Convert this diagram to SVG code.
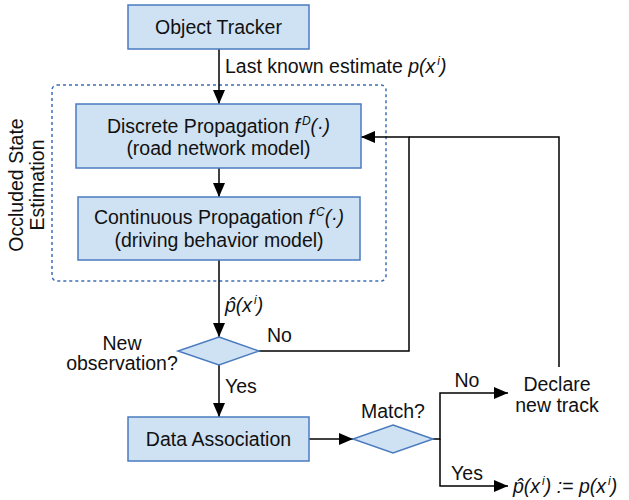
<svg xmlns="http://www.w3.org/2000/svg" width="629" height="500" viewBox="0 0 629 500">
<defs>
<marker id="arr" markerUnits="userSpaceOnUse" markerWidth="16" markerHeight="12" refX="14" refY="6" orient="auto">
<path d="M0,0 L14,6 L0,12 Z" fill="#000"/>
</marker>
<style>
text{font-family:"Liberation Sans",Arial,sans-serif;font-size:19.5px;fill:#111}
.m{text-anchor:middle}
.i{font-style:italic}
.box{fill:#cfe2f3;stroke:#4a7bbf;stroke-width:1.5}
.c{fill:none;stroke:#000;stroke-width:1.5}
</style>
</defs>
<rect width="629" height="500" fill="#fff"/>
<g id="occluded">
<rect x="52" y="85" width="334" height="196" rx="5" fill="none" stroke="#3d6fb6" stroke-width="1.5" stroke-dasharray="3,3"/>
<text class="m" transform="translate(23,185) rotate(-90)">Occluded State</text>
<text class="m" transform="translate(44,185) rotate(-90)">Estimation</text>
</g>
<g id="connectors">
<line class="c" x1="219" y1="49" x2="219" y2="104" marker-end="url(#arr)"/>
<line class="c" x1="219" y1="168" x2="219" y2="197" marker-end="url(#arr)"/>
<line class="c" x1="219" y1="260" x2="219" y2="337" marker-end="url(#arr)"/>
<line class="c" x1="219" y1="365" x2="219" y2="417" marker-end="url(#arr)"/>
<line class="c" x1="309" y1="439" x2="353" y2="439" marker-end="url(#arr)"/>
<polyline class="c" points="259,351 409,351 409,137 361,137" marker-end="url(#arr)"/>
<polyline class="c" points="559,367 559,137 409,137"/>
<polyline class="c" points="433,439 440,439 440,393 508,393" marker-end="url(#arr)"/>
<polyline class="c" points="440,439 440,486 508,486" marker-end="url(#arr)"/>
<text x="225" y="73">Last known estimate <tspan class="i">p(x</tspan><tspan class="i" font-size="12" dx="2" dy="-8">i</tspan><tspan class="i" dy="8">)</tspan></text>
<text class="i" x="225" y="312">p&#x302;(x<tspan font-size="12" dx="2" dy="-8">i</tspan><tspan dy="8">)</tspan></text>
<text x="267" y="342">No</text>
<text x="225" y="393">Yes</text>
<text class="m" x="467" y="387">No</text>
<text class="m" x="467" y="480">Yes</text>
</g>
<g id="tracker">
<rect class="box" x="128" y="5" width="181" height="44"/>
<text class="m" x="218.5" y="34">Object Tracker</text>
</g>
<g id="discrete">
<rect class="box" x="76" y="104" width="285" height="64"/>
<text class="m" x="218.5" y="133">Discrete Propagation <tspan class="i">f</tspan><tspan class="i" font-size="12" dx="2" dy="-8">D</tspan><tspan class="i" dy="8">(·)</tspan></text>
<text class="m" x="218.5" y="155">(road network model)</text>
</g>
<g id="continuous">
<rect class="box" x="78" y="197" width="282" height="63"/>
<text class="m" x="219" y="224">Continuous Propagation <tspan class="i">f</tspan><tspan class="i" font-size="12" dx="2" dy="-8">C</tspan><tspan class="i" dy="8">(·)</tspan></text>
<text class="m" x="219" y="247">(driving behavior model)</text>
</g>
<g id="newobs">
<polygon class="box" points="219,337 259,351 219,365 178,351"/>
<text class="m" x="122" y="350">New</text>
<text class="m" x="122" y="370">observation?</text>
</g>
<g id="data-association">
<rect class="box" x="128" y="417" width="181" height="44"/>
<text class="m" x="218.5" y="446">Data Association</text>
</g>
<g id="match">
<polygon class="box" points="393,425 433,439 393,453 353,439"/>
<text class="m" x="393" y="418">Match?</text>
</g>
<g id="declare">
<text class="m" x="557" y="391">Declare</text>
<text class="m" x="557" y="412">new track</text>
</g>
<g id="assign">
<text class="i" x="513" y="493">p&#x302;(x<tspan font-size="12" dx="2" dy="-8">i</tspan><tspan dy="8">) := p(x</tspan><tspan font-size="12" dx="2" dy="-8">i</tspan><tspan dy="8">)</tspan></text>
</g>
</svg>
